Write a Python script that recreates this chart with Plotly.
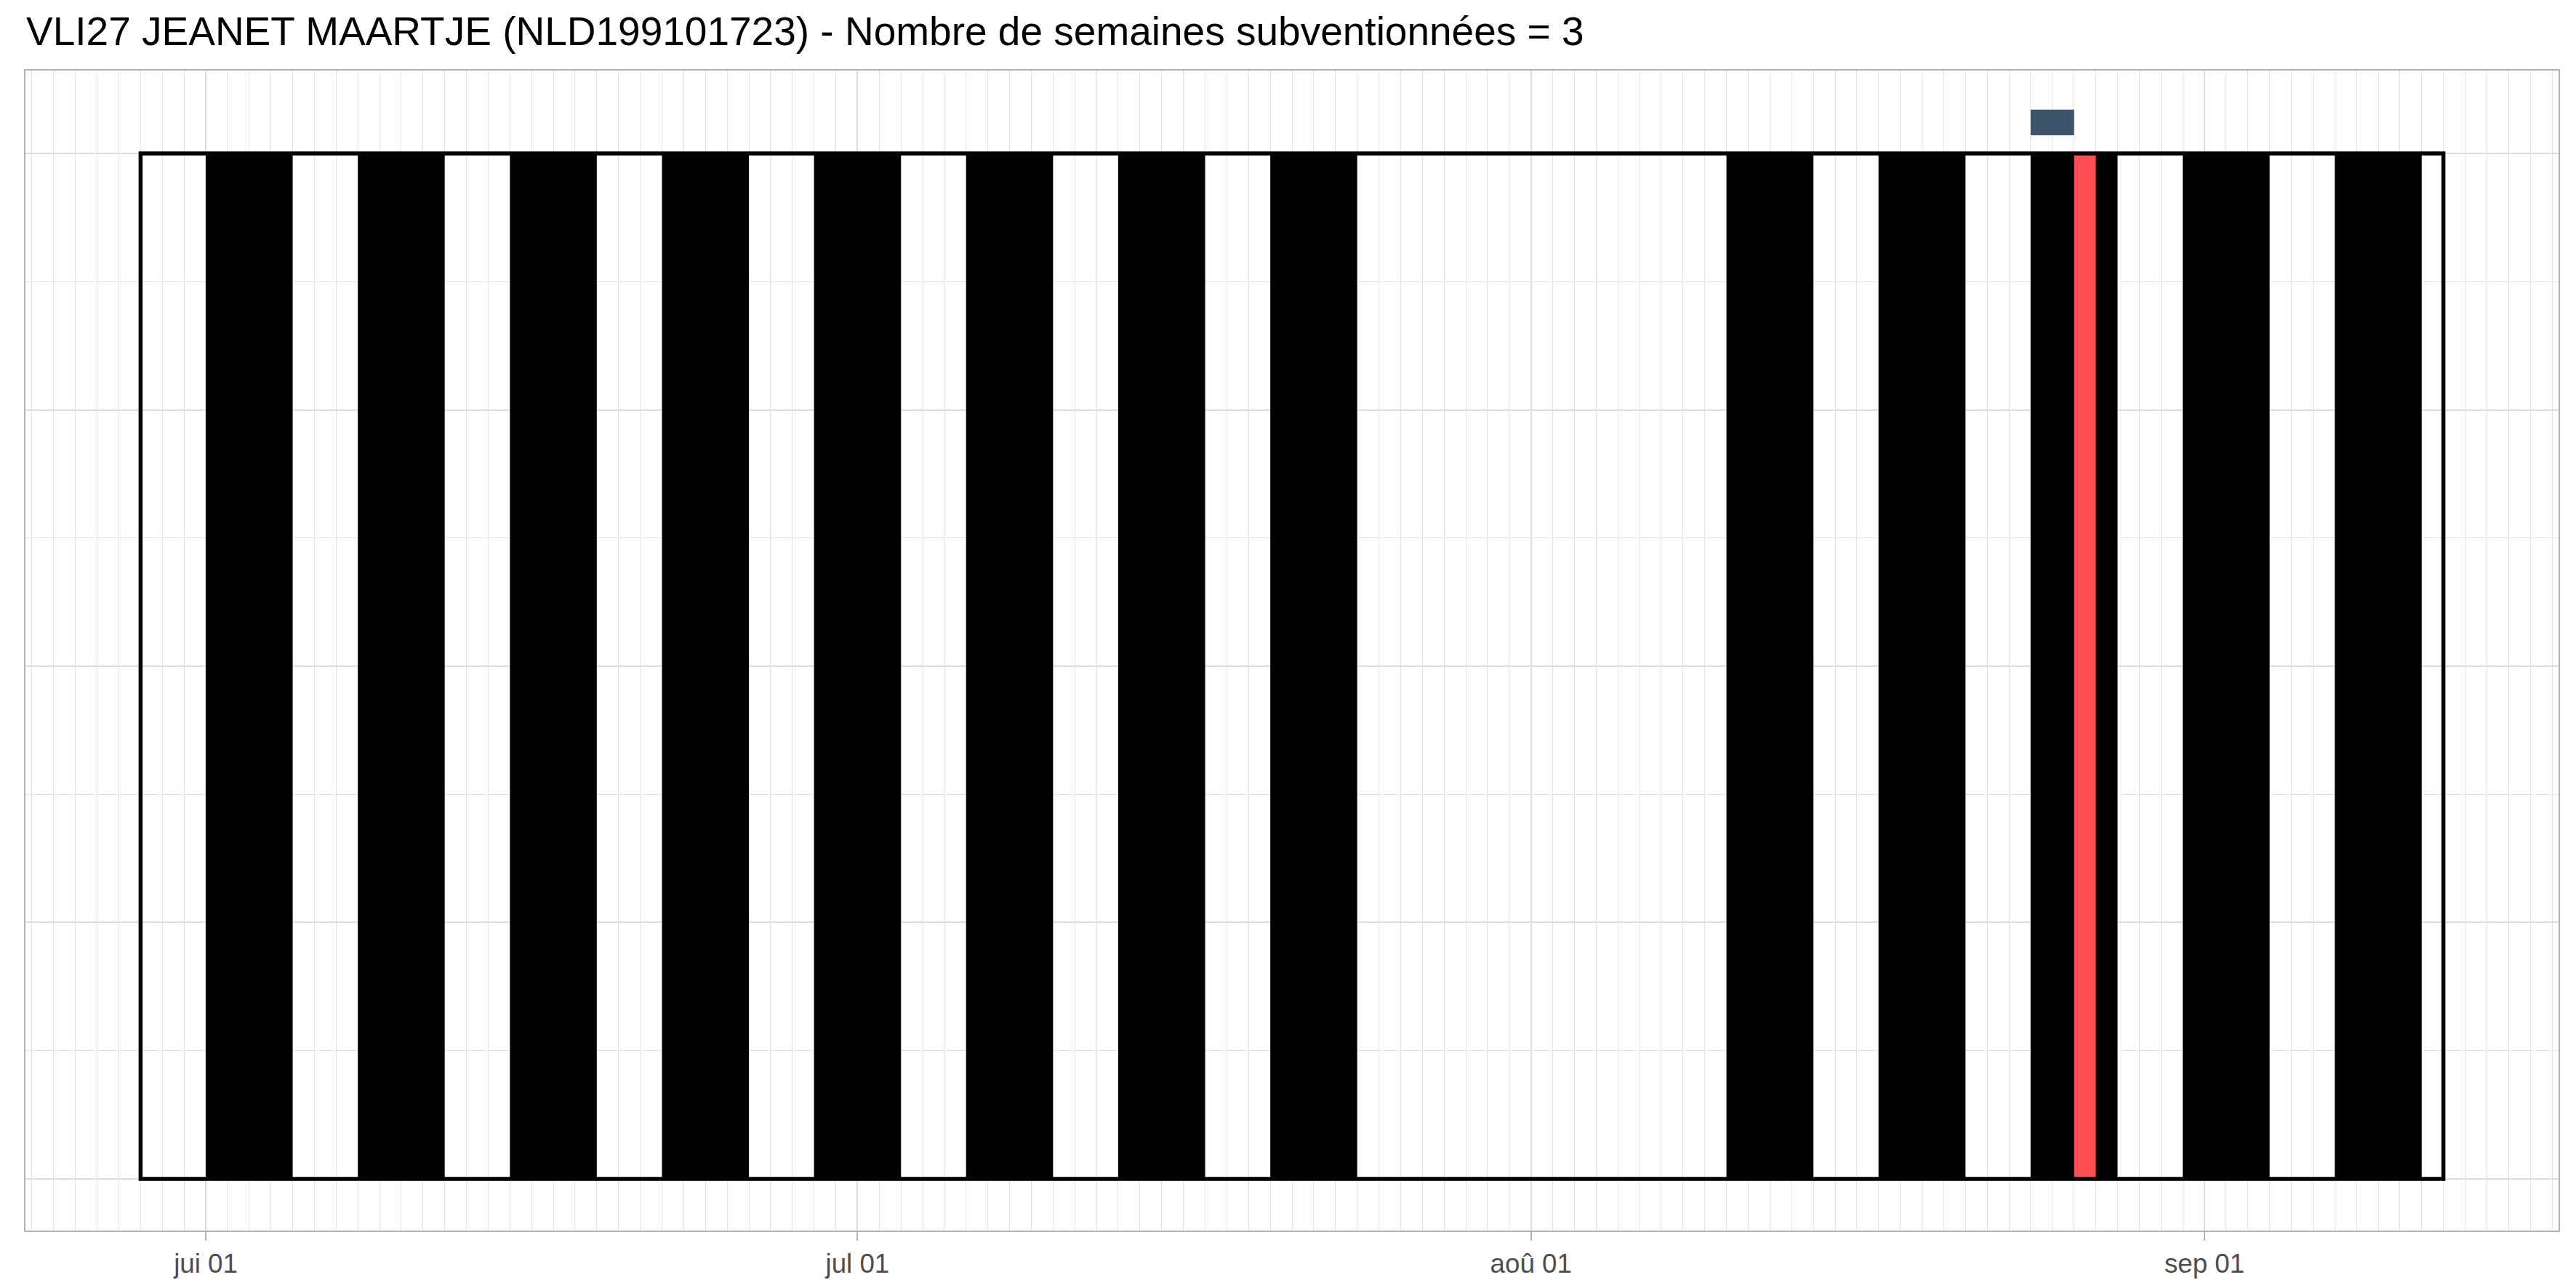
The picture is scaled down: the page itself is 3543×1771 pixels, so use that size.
import plotly.graph_objects as go
from datetime import datetime

# ---------------- data ----------------
title_text = "VLI27 JEANET MAARTJE (NLD199101723) - Nombre de semaines subventionnées = 3"

period_start = "2023-05-29"
period_end = "2023-09-12"

trip_start = ["2023-06-01", "2023-06-08", "2023-06-15", "2023-06-22", "2023-06-29",
              "2023-07-06", "2023-07-13", "2023-07-20", "2023-08-10", "2023-08-17",
              "2023-08-24", "2023-08-31", "2023-09-07"]
trip_end = ["2023-06-05", "2023-06-12", "2023-06-19", "2023-06-26", "2023-07-03",
            "2023-07-10", "2023-07-17", "2023-07-24", "2023-08-14", "2023-08-21",
            "2023-08-28", "2023-09-04", "2023-09-11"]

red_start = ["2023-08-26"]
red_end = ["2023-08-27"]

flag_start = ["2023-08-24"]
flag_end = ["2023-08-26"]

bar_ymin = 0.0
bar_ymax = 1.0
flag_ymin = 1.0177
flag_ymax = 1.0428

tick_dates = ["2023-06-01", "2023-07-01", "2023-08-01", "2023-09-01"]
tick_labels = ["jui 01", "jul 01", "aoû 01", "sep 01"]

# ---------------- figure ----------------
# the page body has an 8px margin, so the figure is drawn 8px smaller and offset
OFF = 8
W, H = 3543 - OFF, 1771 - OFF
fig = go.Figure()

d0 = datetime.fromisoformat(period_start)
d1 = datetime.fromisoformat(period_end)
span = d1 - d0
xr = [(d0 - span * 0.05).isoformat(), (d1 + span * 0.05).isoformat()]

# invisible anchor trace so axes are drawn
fig.add_trace(go.Scatter(x=[period_start, period_end], y=[bar_ymin, bar_ymax],
                         mode="markers", marker=dict(opacity=0), hoverinfo="skip",
                         showlegend=False))

shapes = []
for s, e in zip(trip_start, trip_end):
    shapes.append(dict(type="rect", xref="x", yref="y", x0=s, x1=e, y0=bar_ymin, y1=bar_ymax,
                       fillcolor="black", line=dict(width=0), layer="above"))
for s, e in zip(red_start, red_end):
    shapes.append(dict(type="rect", xref="x", yref="y", x0=s, x1=e, y0=bar_ymin, y1=bar_ymax,
                       fillcolor="#FF4D52", line=dict(width=0), layer="above"))
shapes.append(dict(type="rect", xref="x", yref="y", x0=period_start, x1=period_end,
                   y0=bar_ymin, y1=bar_ymax, fillcolor="rgba(0,0,0,0)",
                   line=dict(color="black", width=5.5), layer="above"))
for s, e in zip(flag_start, flag_end):
    shapes.append(dict(type="rect", xref="x", yref="y", x0=s, x1=e, y0=flag_ymin, y1=flag_ymax,
                       fillcolor="#3C546C", line=dict(width=0), layer="above"))

fig.update_layout(
    width=W, height=H,
    margin=dict(l=35 - OFF, r=24, t=97 - OFF, b=79, pad=0),
    paper_bgcolor="white", plot_bgcolor="white",
    font=dict(family="Liberation Sans, Arial, sans-serif", color="#4D4D4D"),
    title=dict(text=title_text, font=dict(size=55, color="black",
               family="Liberation Sans, Arial, sans-serif"),
               xref="container", x=(36 - OFF) / W, xanchor="left",
               yref="container", y=1 - (23.5 - OFF) / H, yanchor="top"),
    shapes=shapes,
    showlegend=False,
)

fig.update_xaxes(
    type="date", range=xr,
    tickvals=tick_dates, ticktext=tick_labels,
    tickfont=dict(size=36.7, color="#4D4D4D"),
    ticks="outside", ticklen=12, tickwidth=2, tickcolor="#B3B3B3",
    showgrid=True, gridcolor="#DEDEDE", gridwidth=2.2,
    minor=dict(dtick=86400000, tick0="2023-06-01", showgrid=True,
               gridcolor="#E5E5E5", gridwidth=1.3, ticks=""),
    showline=True, mirror=True, linecolor="#B3B3B3", linewidth=2,
    zeroline=False,
)
fig.update_yaxes(
    range=[-0.0504, 1.0809],
    tickvals=[0, 0.25, 0.5, 0.75, 1.0], showticklabels=False, ticks="",
    showgrid=True, gridcolor="#DEDEDE", gridwidth=2.2,
    minor=dict(tickvals=[0.125, 0.375, 0.625, 0.875], showgrid=True,
               gridcolor="#E5E5E5", gridwidth=1.3, ticks=""),
    showline=True, mirror=True, linecolor="#B3B3B3", linewidth=2,
    zeroline=False,
)

fig.write_html("out.html")
